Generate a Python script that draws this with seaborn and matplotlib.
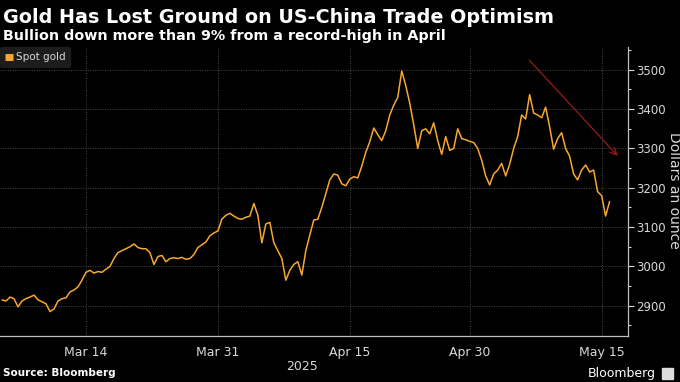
import numpy as np
import pandas as pd
import matplotlib
matplotlib.use("Agg")
import matplotlib.pyplot as plt
import seaborn as sns

# spot gold, 3 readings per trading day, 5 Mar - 15 May 2025
gold = [2915, 2912, 2922, 2918, 2897, 2912, 2918, 2922, 2927, 2915,
        2910, 2905, 2885, 2892, 2912, 2918, 2920, 2935, 2940, 2948,
        2965, 2985, 2990, 2983, 2987, 2985, 2993, 3000, 3020, 3035,
        3040, 3045, 3050, 3057, 3048, 3045, 3045, 3035, 3005, 3025,
        3028, 3012, 3020, 3022, 3020, 3023, 3018, 3020, 3030, 3048,
        3055, 3062, 3078, 3085, 3090, 3120, 3130, 3135, 3128, 3122,
        3120, 3125, 3128, 3160, 3130, 3060, 3108, 3112, 3060, 3040,
        3020, 2965, 2990, 3005, 3012, 2978, 3040, 3080, 3118, 3120,
        3150, 3185, 3220, 3235, 3232, 3210, 3205, 3222, 3228, 3225,
        3255, 3290, 3317, 3352, 3335, 3320, 3345, 3385, 3410, 3430,
        3497, 3460, 3415, 3360, 3300, 3345, 3350, 3337, 3365, 3320,
        3285, 3330, 3295, 3300, 3350, 3325, 3322, 3318, 3315, 3300,
        3270, 3230, 3207, 3235, 3245, 3262, 3230, 3260, 3300, 3330,
        3385, 3375, 3437, 3390, 3385, 3378, 3405, 3355, 3298, 3325,
        3340, 3300, 3280, 3235, 3220, 3245, 3258, 3240, 3245, 3190,
        3180, 3128, 3165]
per_day = 3

tick_dates = ['2025-03-14', '2025-03-31', '2025-04-15', '2025-04-30', '2025-05-15']
tick_labels = ['Mar 14', 'Mar 31', 'Apr 15', 'Apr 30', 'May 15']
minor_dates = ['2025-03-07', '2025-03-21', '2025-04-08', '2025-04-22', '2025-05-08']
yticks = [2900, 3000, 3100, 3200, 3300, 3400, 3500]

# trading days (Good Friday closed)
days = pd.bdate_range('2025-03-05', '2025-05-16')
days = days[days != pd.Timestamp('2025-04-18')]
tick_pos = days.get_indexer(pd.to_datetime(tick_dates))
minor_pos = days.get_indexer(pd.to_datetime(minor_dates))

df = pd.DataFrame({'t': np.arange(len(gold)) / per_day, 'price': gold})

sns.set_style('dark')
plt.rcParams['font.family'] = ['DejaVu Sans']
bg = 'black'
fg = '#d9d9d9'
orange = '#f7a731'

fig = plt.figure(figsize=(6.8, 3.82), dpi=100, facecolor=bg)
ax = fig.add_axes([0.0, 0.1204, 0.9235, 0.7566])
ax.set_facecolor(bg)

sns.lineplot(data=df, x='t', y='price', ax=ax, color=orange, lw=1.1,
             label='Spot gold')

ax.set_xlim(-0.17, 52.2)
ax.set_ylim(2823, 3558)

ax.yaxis.tick_right()
ax.set_yticks(yticks)
ax.set_yticks(np.arange(2850, 3560, 50), minor=True)
ax.set_xticks(tick_pos)
ax.set_xticklabels(tick_labels)
ax.set_xticks(minor_pos, minor=True)
ax.tick_params(axis='y', which='major', colors=fg, length=4,
               width=0.8, pad=2, direction='out')
ax.tick_params(axis='y', which='minor', colors=fg, length=2, width=0.8)
ax.tick_params(axis='x', which='major', colors=fg, length=5,
               width=0.8, pad=2)
ax.tick_params(axis='x', which='minor', colors=fg, length=3, width=0.8)
for lab in ax.get_xticklabels():
    lab.set_color(fg)
    lab.set_fontsize(9)
for lab in ax.get_yticklabels():
    lab.set_color(fg)
    lab.set_fontsize(8.5)

ax.grid(True, which='major', color='#4a4a4a', ls=(0, (1, 1.5)), lw=0.7)
for s in ['top', 'left']:
    ax.spines[s].set_visible(False)
for s in ['right', 'bottom']:
    ax.spines[s].set_visible(True)
    ax.spines[s].set_color('#bfbfbf')
    ax.spines[s].set_linewidth(0.9)

ax.set_xlabel('')
ax.set_ylabel('')
fig.text(674 / 680, 1 - 190 / 382, 'Dollars an ounce', color=fg,
         fontsize=10, rotation=270, ha='center', va='center')

leg = ax.legend(loc='upper left', bbox_to_anchor=(0.0, 1.0), frameon=True,
                fontsize=7.5, handlelength=0.7, handleheight=0.7,
                handletextpad=0.3, borderpad=0.5, borderaxespad=0.0)
leg.get_frame().set_facecolor('#1c1c1c')
leg.get_frame().set_edgecolor('#1c1c1c')
leg.get_frame().set_alpha(1)
for txt in leg.get_texts():
    txt.set_color(fg)
for h in leg.legend_handles:
    h.set_linewidth(5)
    h.set_solid_capstyle('butt')

# trend arrow
ax.annotate('', xy=(51.5, 3276), xytext=(43.8, 3530),
            arrowprops=dict(arrowstyle='->', color='#9b1b1b', lw=0.9,
                            mutation_scale=12))

fig.text(0.004, 0.955, 'Gold Has Lost Ground on US-China Trade Optimism',
         color='white', fontsize=13.8, fontweight='bold', va='center')
fig.text(0.004, 0.905, 'Bullion down more than 9% from a record-high in April',
         color='white', fontsize=10.3, fontweight='bold', va='center')
fig.text(302 / 680, 1 - 366 / 382, '2025', color=fg, fontsize=9,
         ha='center', va='center')
fig.text(0.004, 1 - 373 / 382, 'Source: Bloomberg', color='white',
         fontsize=7.5, fontweight='bold', va='center')
fig.text(0.965, 1 - 373 / 382, 'Bloomberg', color='white', fontsize=9,
         ha='right', va='center')
fig.patches.append(plt.Rectangle((0.973, 1 - 379 / 382), 0.016, 0.03,
                                 transform=fig.transFigure, color='#dddddd',
                                 figure=fig))

fig.savefig('out.png', dpi=100, facecolor=bg)
